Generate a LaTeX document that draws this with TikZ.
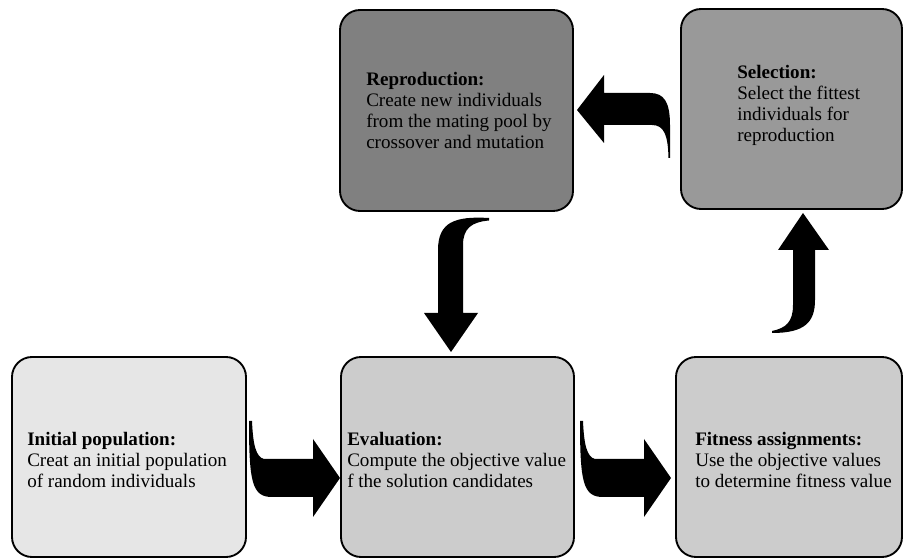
\documentclass[tikz,border=0pt]{standalone}
\usepackage{fontspec}
\setmainfont{Liberation Serif}
\definecolor{cinit}{HTML}{E6E6E6}
\definecolor{ceval}{HTML}{CCCCCC}
\definecolor{cfit}{HTML}{CCCCCC}
\definecolor{crep}{HTML}{808080}
\definecolor{csel}{HTML}{999999}
\begin{document}
\begin{tikzpicture}[x=0.75pt,y=-0.75pt,
  box/.style={draw=black, line width=1.4pt, rounded corners=15pt, inner sep=0pt},
  txt/.style={anchor=north west, inner sep=0pt, align=left, font=\fontsize{14.3}{15.8}\selectfont},
  blockarrow/.style={fill=black, draw=none}]
\useasboundingbox (0,0) rectangle (904,559);
% boxes
\node[box, fill=cinit, minimum width=175.5pt, minimum height=150pt] (init) at (129,457) {};
\node[box, fill=ceval, minimum width=174.75pt, minimum height=150pt] (eval) at (457.5,457) {};
\node[box, fill=cfit, minimum width=169.5pt, minimum height=150pt] (fit) at (789,457) {};
\node[box, fill=crep, minimum width=174.75pt, minimum height=150.75pt] (rep) at (456.5,110.5) {};
\node[box, fill=csel, minimum width=165.75pt, minimum height=150pt] (sel) at (791.5,109) {};
% texts
\node[txt] (initT) at (27,432) {\textbf{Initial population:}\\Creat an initial population\\of random individuals};
\node[txt] (evalT) at (347,432) {\textbf{Evaluation:}\\Compute the objective value\\f the solution candidates};
\node[txt] (fitT) at (695,432) {\textbf{Fitness assignments:}\\Use the objective values\\to determine fitness value};
\node[txt] (repT) at (366,72) {\textbf{Reproduction:}\\Create new individuals\\from the mating pool by\\crossover and mutation};
\node[txt] (selT) at (737,65) {\textbf{Selection:}\\Select the fittest\\individuals for\\reproduction};
% block arrows
% initial -> evaluation
\fill[blockarrow] (249,421) .. controls (249,482) and (252,497) .. (272,497) -- (313,497) -- (313,517) -- (340,478) -- (313,439) -- (313,459) -- (264,459) .. controls (256,457) and (253,445) .. (252,421) -- cycle;
% evaluation -> fitness
\fill[blockarrow] (580,421) .. controls (580,482) and (583,497) .. (603,497) -- (644,497) -- (644,517) -- (671,478) -- (644,439) -- (644,459) -- (595,459) .. controls (587,457) and (584,445) .. (583,421) -- cycle;
% fitness -> selection
\fill[blockarrow] (772,333) .. controls (805,333) and (815,322) .. (815,300) -- (815,250) -- (829,250) -- (803,213) -- (778,250) -- (793,250) -- (793,305) .. controls (793,322) and (786,328) .. (772,331) -- cycle;
% selection -> reproduction
\fill[blockarrow] (577,110) -- (604,75) -- (604,93) -- (650,93) .. controls (664,93) and (670,102) .. (670,125) -- (670,158) -- (668.5,158) .. controls (668,135) and (664,125) .. (652,125) -- (604,125) -- (604,143) -- cycle;
% reproduction -> evaluation
\fill[blockarrow] (489,218) .. controls (455,216) and (438,222) .. (438,250) -- (438,313) -- (424,313) -- (451,352) -- (478,313) -- (463,313) -- (463,245) .. controls (463,228) and (472,222) .. (489,220.5) -- cycle;
\end{tikzpicture}
\end{document}
